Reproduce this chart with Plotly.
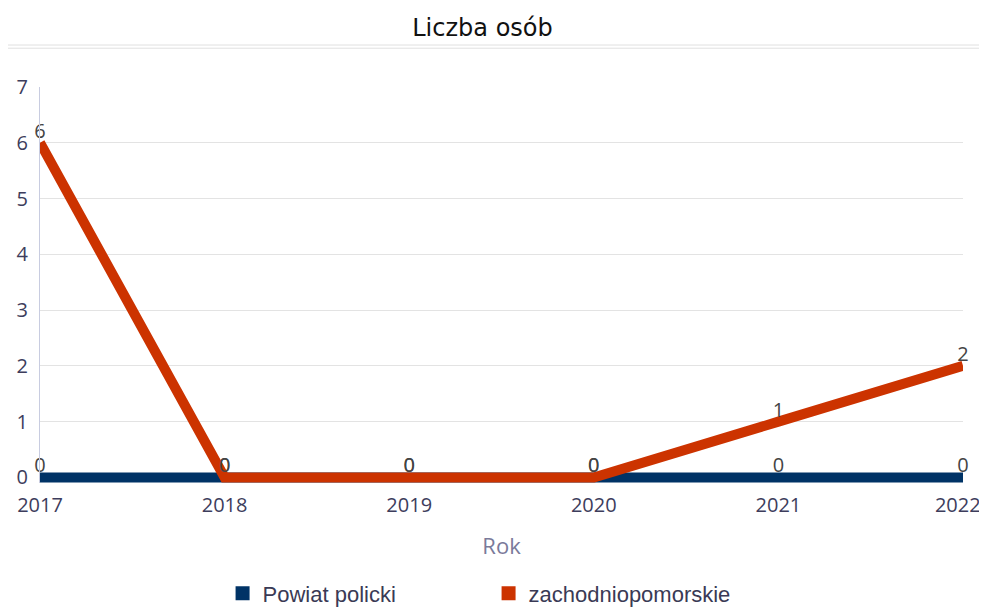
import plotly.graph_objects as go

years = [2017, 2018, 2019, 2020, 2021, 2022]
year_labels = ["2017", "2018", "2019", "2020", "2021", "2022\u00a0\u00a0"]
powiat = [0, 0, 0, 0, 0, 0]
zachodnio = [6, 0, 0, 0, 1, 2]
series_names = ["Powiat policki", "zachodniopomorskie"]
colors = ["#003366", "#cc3300"]

fig = go.Figure()
for name, vals, col in zip(series_names, [powiat, zachodnio], colors):
    fig.add_trace(go.Scatter(
        x=years, y=vals, mode="lines+text", name=name,
        line=dict(color=col, width=10),
        text=[str(v) for v in vals], textposition="top center",
        textfont=dict(family="Open Sans", size=20, color="#444444"),
        cliponaxis=False, showlegend=False,
    ))
for name, col in zip(series_names, colors):
    fig.add_trace(go.Scatter(
        x=[None], y=[None], mode="markers", name=name,
        marker=dict(symbol="square", size=14, color=col),
    ))

fig.update_layout(
    width=979, height=599,
    paper_bgcolor="white", plot_bgcolor="white",
    margin=dict(l=32, r=24, t=79, b=124.4, autoexpand=False),
    title=dict(text="Liczba osób", x=0.4847, xanchor="center", y=0.9666, yanchor="middle",
               font=dict(family="DejaVu Sans", size=24, color="#111111")),
    showlegend=True,
    legend=dict(orientation="h", x=0.486, xanchor="center", y=-0.279, yanchor="middle",
                font=dict(family="Liberation Sans", size=22, color="#3a3a55"),
                entrywidth=221, itemwidth=30),
    xaxis=dict(range=[2017, 2022], tickvals=years, ticktext=year_labels,
               showgrid=False, zeroline=False, showline=False, automargin=False,
               ticks="outside", ticklen=4, tickcolor="rgba(0,0,0,0)",
               ticklabeloverflow="allow",
               tickfont=dict(family="Open Sans", size=20, color="#3d3d5c"),
               title=dict(text="Rok", font=dict(family="Open Sans", size=22, color="#7a7a9a"), standoff=21)),
    yaxis=dict(range=[-0.1, 7], tick0=0, dtick=1, showgrid=True, gridcolor="#e3e3e3", gridwidth=1,
               zeroline=False, showline=True, linecolor="#c8cce0", linewidth=1, automargin=False,
               ticks="outside", ticklen=7, tickcolor="rgba(0,0,0,0)",
               tickfont=dict(family="Open Sans", size=20, color="#3d3d5c")),
    shapes=[
        dict(type="line", xref="paper", yref="paper", x0=-0.038, x1=1.026, y0=1.106, y1=1.106,
             line=dict(color="#e0e0e0", width=1)),
        dict(type="line", xref="paper", yref="paper", x0=-0.038, x1=1.026, y0=1.098, y1=1.098,
             line=dict(color="#e0e0e0", width=1)),
    ],
)
fig.write_html("out.html")
